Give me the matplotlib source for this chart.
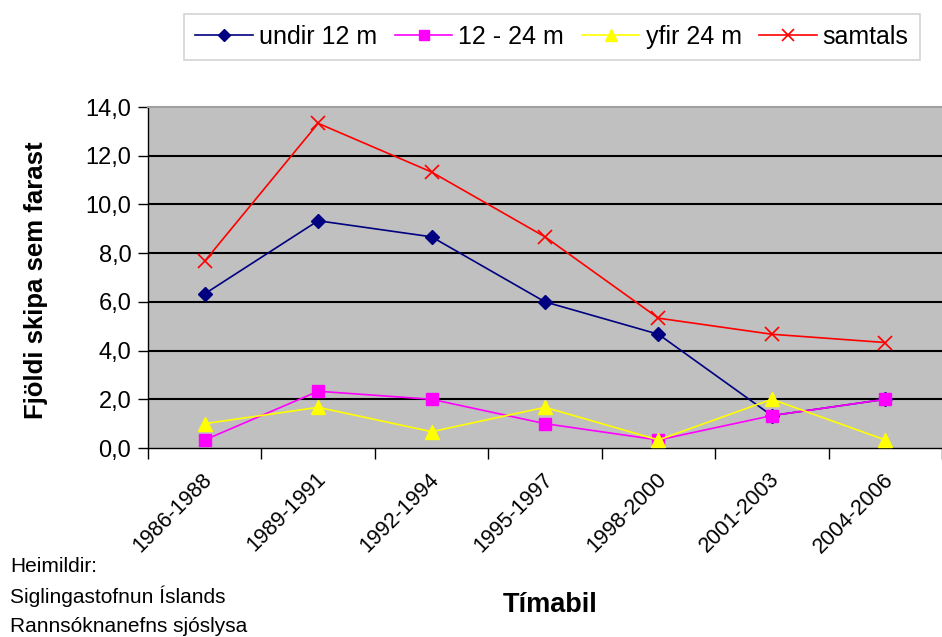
import matplotlib
matplotlib.use("Agg")
import matplotlib.pyplot as plt
import numpy as np

plt.rcParams['font.family'] = ['Liberation Sans', 'DejaVu Sans']

periods = ["1986-1988", "1989-1991", "1992-1994", "1995-1997",
           "1998-2000", "2001-2003", "2004-2006"]
undir_12 = [6.33, 9.33, 8.67, 6.0, 4.67, 1.33, 2.0]
m12_24 = [0.33, 2.33, 2.0, 1.0, 0.33, 1.33, 2.0]
yfir_24 = [1.0, 1.67, 0.67, 1.67, 0.33, 2.0, 0.33]
samtals = [7.67, 13.33, 11.33, 8.67, 5.33, 4.67, 4.33]
series_names = ["undir 12 m", "12 - 24 m", "yfir 24 m", "samtals"]
yticks = [0, 2, 4, 6, 8, 10, 12, 14]

fig = plt.figure(figsize=(9.42, 6.37), dpi=100)
ax = fig.add_axes([148/942, 1-448/637, 1-148/942, (448-107)/637])
ax.set_facecolor('#C0C0C0')

x = np.arange(len(periods))
ax.plot(x, undir_12, color='#000080', marker='D', markersize=7.5, lw=1.2, label=series_names[0], zorder=3)
ax.plot(x, m12_24, color='#FF00FF', marker='s', markersize=8.5, lw=1.2, label=series_names[1], zorder=3)
ax.plot(x, yfir_24, color='#FFFF00', marker='^', markersize=10, lw=1.2, label=series_names[2], zorder=3)
ax.plot(x, samtals, color='#FF0000', marker='x', markersize=10, mew=1.2, lw=1.2, label=series_names[3], zorder=3)

ax.set_xlim(-0.5, 6.43)
ax.set_ylim(0, 14)
ax.set_yticks(yticks)
ax.set_yticklabels([f"{v:.1f}".replace('.', ',') for v in yticks], fontsize=17)
for v in yticks[1:-1]:
    ax.axhline(v, color='black', lw=1.5, zorder=1)

ax.set_xticks(np.arange(-0.5, 6.6, 1.0))
ax.set_xticklabels([])
ax.tick_params(axis='x', direction='out', length=8, width=1, color='black')
ax.tick_params(axis='y', direction='out', length=7, width=1, color='black', pad=5)
for i, p in enumerate(periods):
    ax.annotate(p, xy=(i, 0), xycoords=('data', 'axes fraction'),
                xytext=(-2, -15), textcoords='offset points',
                rotation=45, ha='right', va='top', rotation_mode='anchor', fontsize=15.5)

ax.spines['right'].set_visible(False)
ax.spines['top'].set_color('#A0A0A0')
ax.spines['top'].set_linewidth(1.5)
for s in ['left', 'bottom']:
    ax.spines[s].set_color('black')
    ax.spines[s].set_linewidth(1)

ax.set_ylabel("Fjöldi skipa sem farast", fontsize=18.5, fontweight='bold')
ax.yaxis.set_label_coords((48-148)/794, (448-280)/341)
fig.text(550/942, 1-605/637, "Tímabil", fontsize=19.5, fontweight='bold', ha='center', va='center')

leg = fig.legend(loc='center', bbox_to_anchor=(552/942, 1-37/637), ncol=4, fontsize=18,
                 frameon=True, fancybox=False, edgecolor='#C8C8C8', handlelength=2.3,
                 handletextpad=0.25, columnspacing=0.7, borderpad=0.45, markerscale=0.8)
leg.get_frame().set_linewidth(1.2)

for txt, yy in [("Heimildir:", 567), ("Siglingastofnun Íslands", 596), ("Rannsóknanefns sjóslysa", 626)]:
    fig.text(10/942, 1-yy/637, txt, fontsize=15, ha='left', va='center')

fig.savefig("out.png", dpi=100)
